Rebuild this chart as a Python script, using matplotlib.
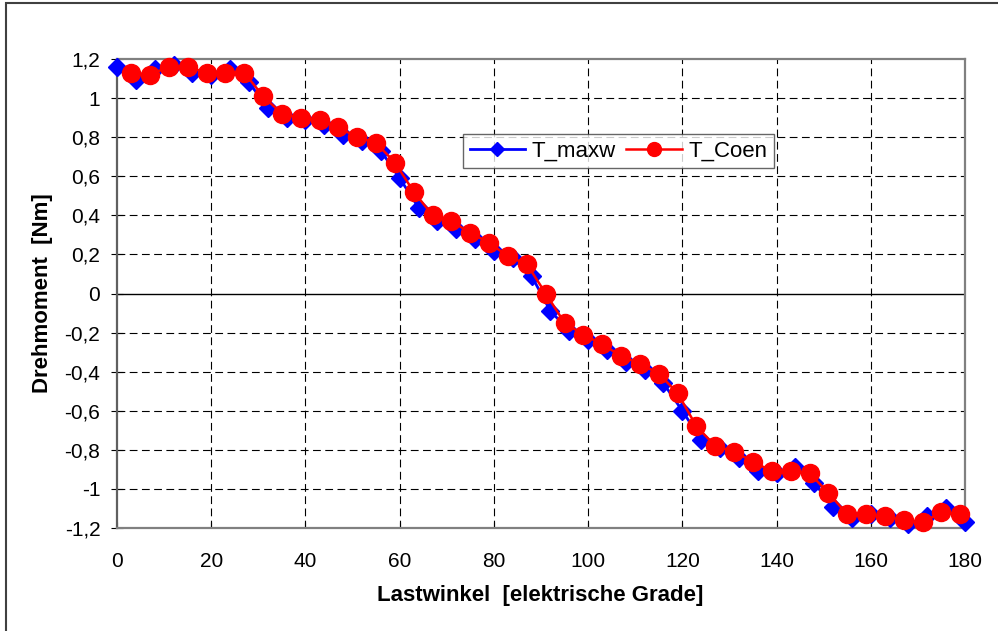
import matplotlib
matplotlib.use("Agg")
import matplotlib.pyplot as plt
from matplotlib.patches import Rectangle
import numpy as np

plt.rcParams['font.family'] = ['Liberation Sans', 'DejaVu Sans']

# T_maxw, every 4 degrees from 0 to 180
winkel_maxw = list(range(0, 181, 4))
t_maxw = [1.16, 1.09, 1.15, 1.17, 1.13, 1.12, 1.15, 1.08, 0.95, 0.90,
          0.89, 0.86, 0.81, 0.78, 0.73, 0.59, 0.44, 0.37, 0.33, 0.28,
          0.22, 0.18, 0.09, -0.09, -0.19, -0.24, -0.29, -0.35, -0.39, -0.46,
          -0.60, -0.75, -0.79, -0.84, -0.91, -0.92, -0.89, -0.97, -1.09, -1.15,
          -1.13, -1.15, -1.18, -1.14, -1.10, -1.17]

# T_Coen, every 4 degrees from 3 to 179
winkel_coen = list(range(3, 180, 4))
t_coen = [1.13, 1.12, 1.16, 1.16, 1.13, 1.13, 1.13, 1.01, 0.92, 0.90,
          0.89, 0.85, 0.80, 0.77, 0.67, 0.52, 0.40, 0.37, 0.31, 0.26,
          0.19, 0.15, 0.00, -0.15, -0.21, -0.26, -0.32, -0.36, -0.41, -0.51,
          -0.68, -0.78, -0.81, -0.86, -0.91, -0.91, -0.92, -1.02, -1.13, -1.13,
          -1.14, -1.16, -1.17, -1.12, -1.13]

x_ticks = list(range(0, 181, 20))
y_ticks = [-1.2, -1.0, -0.8, -0.6, -0.4, -0.2, 0.0, 0.2, 0.4, 0.6, 0.8, 1.0, 1.2]
y_labels = ['-1,2', '-1', '-0,8', '-0,6', '-0,4', '-0,2', '0', '0,2', '0,4', '0,6', '0,8', '1', '1,2']

fig = plt.figure(figsize=(9.98, 6.31), dpi=100, facecolor='white')
ax = fig.add_axes([117/998, 1-528/631, (965-117)/998, (528-59)/631])

# outer chart border (right and bottom edge fall outside the picture)
fig.patches.append(Rectangle((6/998, -0.05), 1.1, 1-3/631+0.05, transform=fig.transFigure,
                             fill=False, edgecolor='#404040', linewidth=1.5))

ax.plot(winkel_maxw, t_maxw, color='#0000ff', linewidth=2.0, marker='D', markersize=9.5,
        label='T_maxw', clip_on=False, zorder=3)
ax.plot(winkel_coen, t_coen, color='#ff0000', linewidth=1.8, marker='o', markersize=13,
        label='T_Coen', clip_on=False, zorder=4)

ax.set_xlim(0, 180)
ax.set_ylim(-1.2, 1.2)
ax.set_xticks(x_ticks)
ax.set_yticks(y_ticks)
ax.set_yticklabels(y_labels)

for v in y_ticks[1:-1]:
    if v == 0:
        ax.axhline(0, color='black', linewidth=1.0, zorder=1)
    else:
        ax.axhline(v, color='black', linewidth=0.8, linestyle=(0, (7, 4)), zorder=1)
for v in x_ticks[1:-1]:
    ax.axvline(v, color='black', linewidth=0.8, linestyle=(0, (7, 4)), zorder=1)

for s in ax.spines.values():
    s.set_color('#808080')
    s.set_linewidth(1.6)
ax.spines['left'].set_color('#606060')

ax.tick_params(axis='y', direction='inout', length=9, width=0.8, labelsize=15, pad=7.5)
ax.tick_params(axis='x', direction='in', length=4, width=0.8, labelsize=15, pad=17)

ax.set_xlabel('Lastwinkel  [elektrische Grade]', fontsize=16, fontweight='bold', va='center')
ax.set_ylabel('Drehmoment  [Nm]', fontsize=16, fontweight='bold', va='center')
ax.xaxis.set_label_coords(0.4995, (528-595)/469)
ax.yaxis.set_label_coords((42-117)/848, 0.5)

leg = ax.legend(loc='upper left', bbox_to_anchor=((463-117)/848, 1-(134-59)/469), ncol=2,
                fontsize=16, frameon=True, fancybox=False, borderpad=0.3,
                handlelength=2.5, columnspacing=0.45, handletextpad=0.3, borderaxespad=0)
leg.get_frame().set_edgecolor('#404040')
leg.get_frame().set_linewidth(1.0)
leg.legend_handles[0].set_markersize(7.5)
leg.legend_handles[1].set_markersize(10)

fig.savefig('out.png', dpi=100, facecolor='white')
